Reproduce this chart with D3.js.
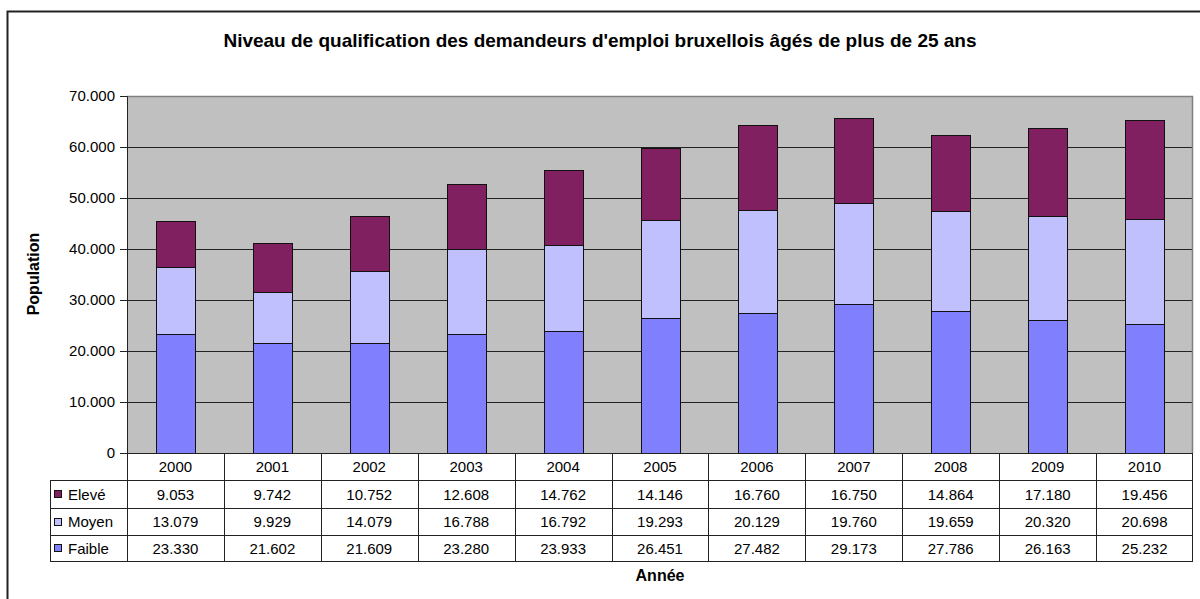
<!DOCTYPE html>
<html>
<head>
<meta charset="utf-8">
<script src="https://cdn.jsdelivr.net/npm/d3@7"></script>
<style>
  body { margin: 0; background: #fff; }
  text { font-family: Arial, "Liberation Sans", sans-serif; fill: #000; }
</style>
</head>
<body>
<div id="chart"></div>
<script>
const years = ["2000", "2001", "2002", "2003", "2004", "2005", "2006", "2007", "2008", "2009", "2010"];
const faible = [23330, 21602, 21609, 23280, 23933, 26451, 27482, 29173, 27786, 26163, 25232];
const moyen = [13079, 9929, 14079, 16788, 16792, 19293, 20129, 19760, 19659, 20320, 20698];
const eleve = [9053, 9742, 10752, 12608, 14762, 14146, 16760, 16750, 14864, 17180, 19456];
const yTicks = [0, 10000, 20000, 30000, 40000, 50000, 60000, 70000];

const series = [
  { name: "Elevé", values: eleve, color: "#802060" },
  { name: "Moyen", values: moyen, color: "#c0c0ff" },
  { name: "Faible", values: faible, color: "#8080ff" }
];

const W = 1200, H = 599;
const margin = { top: 96, right: 7, bottom: 146, left: 127 };
const width = W - margin.left - margin.right,
  height = H - margin.top - margin.bottom;

const loc = d3.formatLocale({ decimal: ",", thousands: ".", grouping: [3], currency: ["", "€"] });
const fmt = loc.format(",d");

const svg = d3.select("#chart").append("svg")
  .attr("width", W).attr("height", H);

// chart border
svg.append("rect")
  .attr("x", 7.5).attr("y", 11.5)
  .attr("width", 1400).attr("height", 800)
  .attr("fill", "none").attr("stroke", "#222").attr("stroke-width", 2);

svg.append("text")
  .attr("x", 600).attr("y", 47)
  .attr("text-anchor", "middle")
  .style("font-size", "19px").style("font-weight", "bold")
  .text("Niveau de qualification des demandeurs d'emploi bruxellois âgés de plus de 25 ans");

const g = svg.append("g").attr("transform", `translate(${margin.left},${margin.top})`);

const x = d3.scaleBand().domain(years).range([0, width]).paddingInner(0.6).paddingOuter(0.3);
const y = d3.scaleLinear().domain([0, 70000]).range([height, 0]);

g.append("rect")
  .attr("width", width).attr("height", height)
  .attr("fill", "#c0c0c0");

// gridlines
g.selectAll(".grid")
  .data(yTicks.filter(d => d > 0 && d < 70000))
  .join("line")
  .attr("x1", 0).attr("x2", width)
  .attr("y1", d => Math.round(y(d)) + 0.5).attr("y2", d => Math.round(y(d)) + 0.5)
  .attr("stroke", "#222");

// plot border top/right
g.append("path")
  .attr("d", `M0,0.5H${width - 0.5}V${height}`)
  .attr("fill", "none").attr("stroke", "#808080").attr("stroke-width", 1.5);

// stacked bars
const rows = years.map((yr, i) => ({ year: yr, Faible: faible[i], Moyen: moyen[i], "Elevé": eleve[i] }));
const stack = d3.stack().keys(["Faible", "Moyen", "Elevé"])(rows);
const colorOf = Object.fromEntries(series.map(s => [s.name, s.color]));

g.selectAll(".layer")
  .data(stack)
  .join("g")
  .attr("fill", d => colorOf[d.key])
  .selectAll("rect")
  .data(d => d)
  .join("rect")
  .attr("x", d => Math.round(x(d.data.year)) + 0.5)
  .attr("width", Math.round(x.bandwidth()))
  .attr("y", d => Math.round(y(d[1])) + 0.5)
  .attr("height", d => Math.round(y(d[0])) - Math.round(y(d[1])))
  .attr("stroke", "#111").attr("stroke-width", 1);

// y axis
const yAxis = g.append("g")
  .call(d3.axisLeft(y).tickValues(yTicks).tickFormat(fmt).tickSize(7).tickPadding(5));
yAxis.select(".domain").attr("stroke", "#222");
yAxis.selectAll(".tick line").attr("stroke", "#222");
yAxis.selectAll("text").style("font-size", "15px").attr("fill", "#000")
  .style("font-family", "Arial, 'Liberation Sans', sans-serif");

svg.append("text")
  .attr("transform", "translate(39,274) rotate(-90)")
  .attr("text-anchor", "middle")
  .style("font-size", "16px").style("font-weight", "bold")
  .text("Population");

// data table
const step = x.step();
const colLeft = d => x(d) - step * x.paddingInner() / 2;
const headerH = 27, rowH = [28, 27, 26];
const tableLeft = 50 - margin.left;
const rowTop = [headerH, headerH + rowH[0], headerH + rowH[0] + rowH[1]];
const tableBottom = rowTop[2] + rowH[2];

const t = g.append("g").attr("transform", `translate(0,${height})`);

// header labels
t.selectAll(".yr")
  .data(years)
  .join("text")
  .attr("x", d => colLeft(d) + step / 2)
  .attr("y", headerH / 2 + 5)
  .attr("text-anchor", "middle")
  .style("font-size", "15px")
  .text(d => d);

// horizontal lines
t.append("line").attr("x1", 0).attr("x2", width).attr("y1", 0.5).attr("y2", 0.5).attr("stroke", "#222");
[rowTop[0], rowTop[1], rowTop[2], tableBottom].forEach(v => {
  t.append("line").attr("x1", tableLeft).attr("x2", width)
    .attr("y1", v + 0.5).attr("y2", v + 0.5).attr("stroke", "#222");
});

// vertical lines
years.forEach((d, i) => {
  t.append("line").attr("x1", Math.round(colLeft(d)) + 0.5).attr("x2", Math.round(colLeft(d)) + 0.5)
    .attr("y1", 0).attr("y2", tableBottom + 1).attr("stroke", "#222");
});
t.append("line").attr("x1", width - 0.5).attr("x2", width - 0.5)
  .attr("y1", 0).attr("y2", tableBottom + 1).attr("stroke", "#222");
t.append("line").attr("x1", tableLeft + 0.5).attr("x2", tableLeft + 0.5)
  .attr("y1", rowTop[0]).attr("y2", tableBottom + 1).attr("stroke", "#222");

// rows
series.forEach((s, r) => {
  const cy = rowTop[r] + rowH[r] / 2;
  t.append("rect")
    .attr("x", tableLeft + 4.5).attr("y", Math.round(cy) - 3.5)
    .attr("width", 7).attr("height", 7)
    .attr("fill", s.color).attr("stroke", "#111");
  t.append("text")
    .attr("x", tableLeft + 18).attr("y", cy + 5.5)
    .style("font-size", "15px")
    .text(s.name);
  t.selectAll(".v" + r)
    .data(years)
    .join("text")
    .attr("x", d => colLeft(d) + step / 2)
    .attr("y", cy + 5.5)
    .attr("text-anchor", "middle")
    .style("font-size", "15px")
    .text((d, i) => fmt(s.values[i]));
});

svg.append("text")
  .attr("x", 660).attr("y", 581)
  .attr("text-anchor", "middle")
  .style("font-size", "16px").style("font-weight", "bold")
  .text("Année");
</script>
</body>
</html>
